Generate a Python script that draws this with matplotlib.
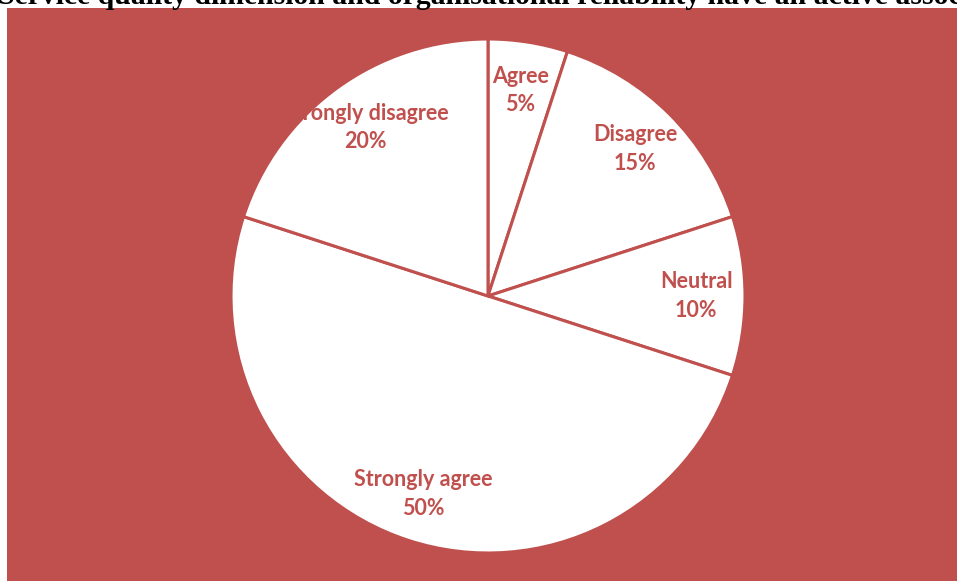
import numpy as np
import matplotlib
matplotlib.use("Agg")
import matplotlib.pyplot as plt
from matplotlib.patches import Rectangle

categories = ["Agree", "Disagree", "Neutral", "Strongly agree", "Strongly disagree"]
shares = [5, 15, 10, 50, 20]
title = ("Service quality dimension and organisational reliability "
         "have an active association")

RED = "#C0504D"
W, H = 957, 581
fig = plt.figure(figsize=(W / 100, H / 100), dpi=100)
fig.patch.set_facecolor("white")

# chart area background
fig.patches.append(Rectangle((7 / W, 0), 1 - 7 / W, (H - 8) / H,
                             transform=fig.transFigure, facecolor=RED,
                             edgecolor="none", zorder=-5))

# title (runs past the figure edges)
fig.text(-2 / W, 1 - 4.5 / H, title, ha="left", va="baseline",
         family="Liberation Serif", fontweight="bold", fontsize=21.4,
         color="black", zorder=-4)

cx, cy, r = 488, 296, 257
ax = fig.add_axes([(cx - r) / W, (H - cy - r) / H, 2 * r / W, 2 * r / H])
ax.set_facecolor("none")

wedges, _ = ax.pie(shares, startangle=90, counterclock=False, radius=1,
                   colors=["white"] * len(shares),
                   wedgeprops=dict(edgecolor=RED, linewidth=2.2))
ax.set_xlim(-1, 1)
ax.set_ylim(-1, 1)
ax.set_aspect("equal")
ax.axis("off")

for w, cat, val in zip(wedges, categories, shares):
    mid = np.deg2rad((w.theta1 + w.theta2) / 2)
    d = 0.81
    ax.text(d * np.cos(mid), d * np.sin(mid), f"{cat}\n{val}%",
            ha="center", va="center", color=RED, fontsize=15.5,
            family="Lato", fontweight="bold", linespacing=1.45)

fig.savefig("out.png", dpi=100)
